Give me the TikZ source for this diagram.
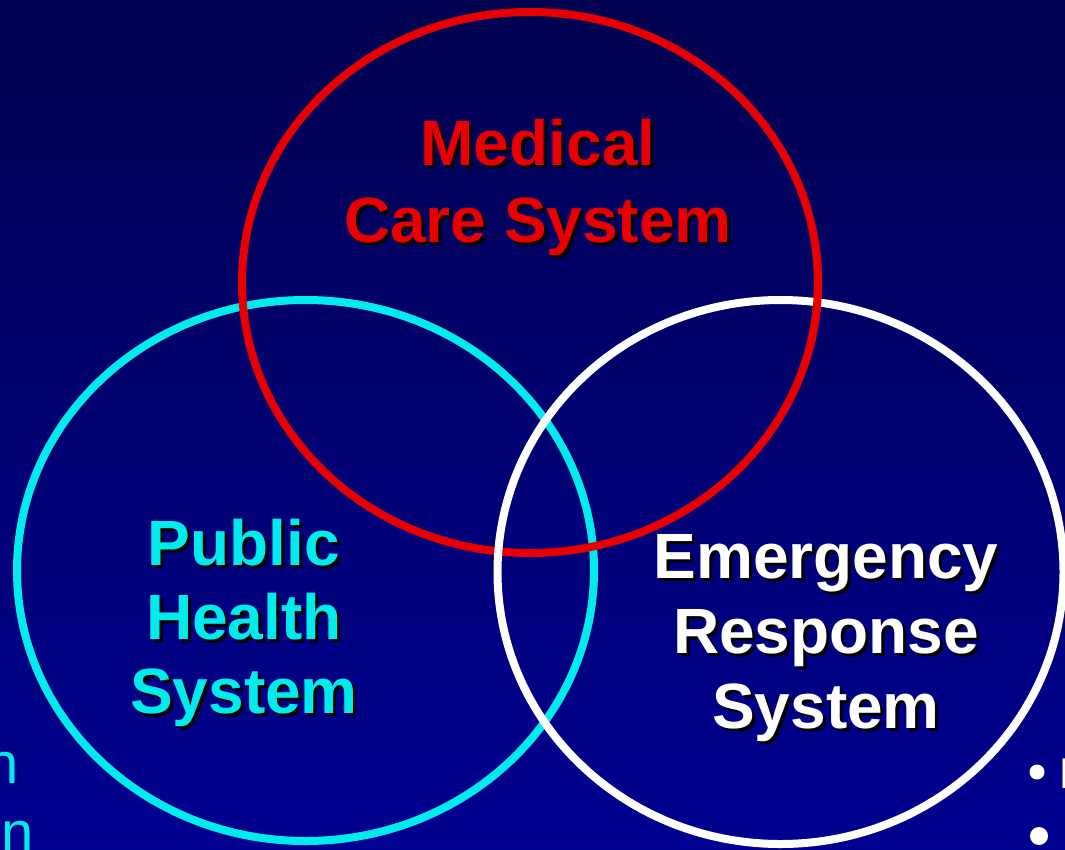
\documentclass[tikz,border=0pt]{standalone}
\usepackage{fontspec}
\setmainfont{Liberation Sans}
\usetikzlibrary{calc}
\usetikzlibrary{positioning}
\definecolor{slidetop}{RGB}{0,0,80}
\definecolor{slidebottom}{RGB}{0,0,145}
\definecolor{medred}{RGB}{232,0,0}
\definecolor{phcyan}{RGB}{0,236,236}
\tikzset{
  ring/.style={line width=8pt},
  bigtext/.style={font=\bfseries\fontsize{64}{75}\selectfont, inner sep=0pt},
  fragtext/.style={inner sep=0pt}
}
\newcommand\shadowed[1]{\rlap{\color{black}\hspace{3pt}\raisebox{-3pt}{#1}}#1}
\newcommand\syslabel[6]{
  \foreach \txt [count=\i] in {#6} {
    \node[bigtext, text=#2, anchor=base] (#1-\i) at (#3, #4+#5*\i-#5) {\shadowed{\txt}};
  }
}

\begin{document}
\begin{tikzpicture}[x=1pt,y=-1pt]
  %
  \useasboundingbox (0,0) rectangle (1065,849);
  \clip (0,0) rectangle (1065,849);
  \shade[top color=slidetop, bottom color=slidebottom] (0,0) rectangle (1065,849);

  \coordinate (med) at (530,282.5);
  \coordinate (pub) at (305.5,570.5);
  \coordinate (emr) at (780.5,572);

  \draw[ring, phcyan] (pub) ellipse [x radius=288.5pt, y radius=270.5pt];
  \draw[ring, medred] (med) ellipse [x radius=288pt, y radius=270.5pt];
  \draw[ring, white] (emr) ellipse [x radius=283pt, y radius=272pt];

  % red passes over white at the upper crossing
  \begin{scope}
    \clip (760,250) rectangle (860,370);
    \draw[ring, medred] (med) ellipse [x radius=288pt, y radius=270.5pt];
  \end{scope}

  \syslabel{medlbl}{medred}{538}{165}{77}{Medical,Care System}
  \syslabel{publbl}{phcyan}{244}{565}{74}{Public,Health,System}
  \syslabel{emrlbl}{white}{826}{578}{75}{Emergency,Response,System}

  % cut-off text at the slide edges
  \node[fragtext, text=phcyan, font=\fontsize{58}{58}\selectfont, anchor=base east] (leftA) at (19,783) {n};
  \node[fragtext, text=phcyan, font=\fontsize{58}{58}\selectfont, anchor=base east] (leftB) at (34,852) {n};

  \fill[white] (1037,772) circle (7.5pt);
  \fill[white] (1039,836) circle (9pt);
  \node[fragtext, text=white, font=\fontsize{43}{43}\selectfont, anchor=base west] (rightA) at (1059,788) {P};

\end{tikzpicture}
\end{document}
